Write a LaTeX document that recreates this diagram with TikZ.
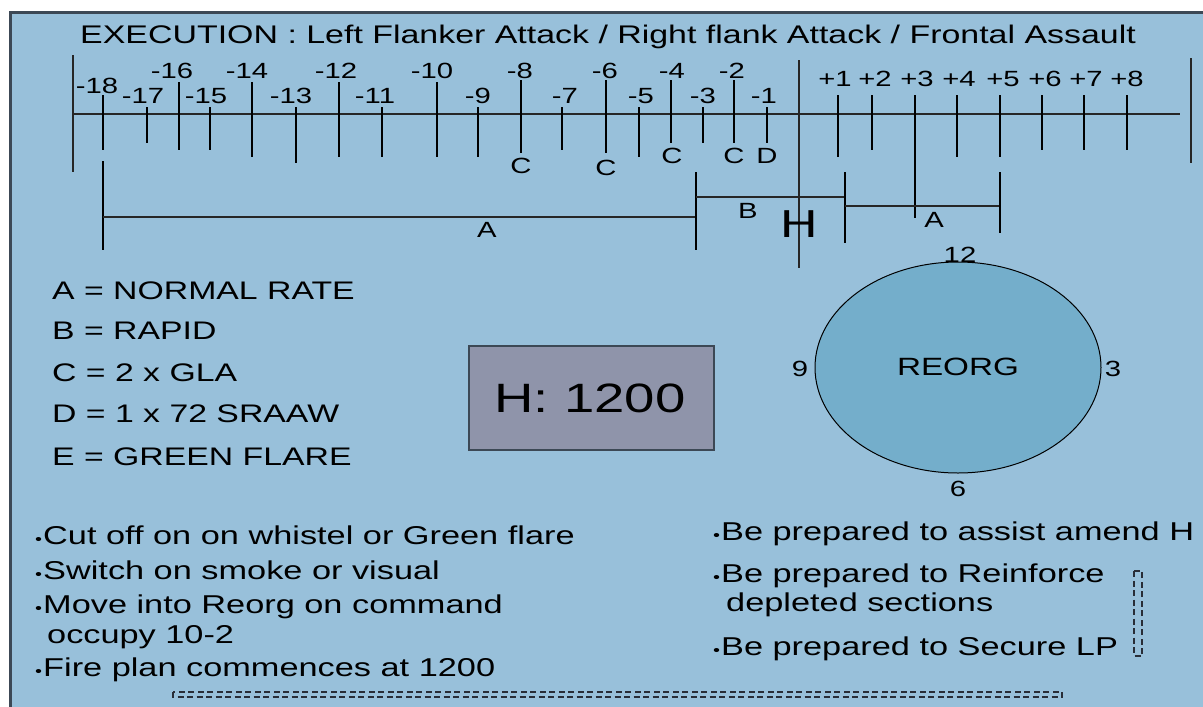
\documentclass[tikz,border=0pt]{standalone}
\usepackage{fontspec}
\usetikzlibrary{shapes.geometric}
\setmainfont[FakeStretch=1.33]{Liberation Sans}
\definecolor{bgblue}{RGB}{152,192,218}
\definecolor{circblue}{RGB}{116,174,203}
\definecolor{boxgray}{RGB}{143,148,170}
\definecolor{framec}{RGB}{60,72,85}
\definecolor{dashc}{RGB}{40,45,55}
\newcommand{\fs}[1]{\fontsize{#1}{#1}\selectfont}
\newcommand{\bul}{{\fs{15}•}\hspace{1pt}}
\begin{document}
\begin{tikzpicture}[x=1pt,y=-1pt,
  tick/.style={line width=1.8pt,black},
  thinline/.style={line width=1.3pt,black!85},
  lbl/.style={inner sep=0pt,anchor=base,font=\fs{22}},
  txt/.style={inner sep=0pt,anchor=base west,font=\fs{25.4}},
  btxt/.style={inner sep=0pt,anchor=base west,font=\fs{25.8}},
  dashbox/.style={draw=dashc,line width=1.2pt,dash pattern=on 6pt off 3.5pt}]
\useasboundingbox (0,0) rectangle (1203,707);
\begin{scope}
\clip (0,0) rectangle (1203,707);
\fill[white] (0,0) rectangle (1203,707);
\filldraw[fill=bgblue,draw=framec,line width=3pt] (10.5,12.5) rectangle (1230,740);
\end{scope}
% title
\node[inner sep=0pt,anchor=base,font=\fs{25.5}] (title) at (608,43) {EXECUTION : Left Flanker Attack / Right flank Attack / Frontal Assault};
% main timeline
\coordinate (tl0) at (73,114);
\coordinate (tl1) at (1180,114);
\draw[thinline] (tl0) -- (tl1);
\draw[thinline] (73,55) -- (73,172);
\draw[thinline] (1191,58) -- (1191,163);
\draw[thinline] (799,60) -- (799,268);
\foreach \x/\t/\b in {103/95/150,147/107/143,179/82/150,210/107/150,252/82/157,296/107/163,339/82/157,382/107/157,437/82/157,478/107/157,521/80/153,562/107/150,606/80/153,639/107/157,671/80/143,703/107/143,734/80/143,767/107/143,838/95/157,872/95/150,915/95/218,957/95/157,1000/95/157,1042/95/150,1084/95/150,1127/95/150}
  \draw[tick] (\x,\t) -- (\x,\b);
% tick labels
\node[lbl] (m18) at (97,93) {-18};
\foreach \n/\x in {16/172,14/247,12/336,10/432,8/520,6/605,4/672,2/732}
  \node[lbl] (m\n) at (\x,78) {-\n};
\foreach \n/\x in {17/143,15/206,13/291,11/375,9/478,7/565,5/641,3/703,1/764}
  \node[lbl] (m\n) at (\x,103) {-\n};
\foreach \n/\x in {1/835,2/875,3/917,4/959,5/1003,6/1045,7/1086,8/1127}
  \node[lbl] (p\n) at (\x,86) {+\n};
% C / D labels
\node[lbl] (c1) at (521,173) {C};
\node[lbl] (c2) at (606,175) {C};
\node[lbl] (c3) at (672,163) {C};
\node[lbl] (c4) at (734,163) {C};
\node[lbl] (d1) at (767,163) {D};
% brackets
\draw[tick] (103,161) -- (103,250);
\draw[thinline] (103,217) -- (696,217);
\draw[tick] (696,172) -- (696,250);
\draw[thinline] (696,197) -- (845,197);
\draw[tick] (845,172) -- (845,243);
\draw[thinline] (845,206) -- (1000,206);
\draw[tick] (1000,172) -- (1000,233);
\node[lbl,font=\fs{22}] (la) at (487,237) {A};
\node[lbl,font=\fs{22}] (lb) at (748,218) {B};
\node[lbl,font=\fs{22}] (la2) at (934,227) {A};
\node[lbl,font=\fs{39}] (hh) at (799,237) {H};
% legend
\node[txt] (lega) at (52,299) {A = NORMAL RATE};
\node[txt] (legb) at (52,339) {B = RAPID};
\node[txt] (legc) at (52,381) {C = 2 x GLA};
\node[txt] (legd) at (52,422) {D = 1 x 72 SRAAW};
\node[txt] (lege) at (52,465) {E = GREEN FLARE};
% H box
\node[draw=framec,fill=boxgray,line width=1.2pt,minimum width=245pt,minimum height=104pt,inner sep=0pt] (hbox) at (591.5,398) {};
\node[inner sep=0pt,anchor=base,font=\fs{41}] (htext) at (590,412) {H: 1200};
% reorg circle
\node[ellipse,draw=black,fill=circblue,line width=1pt,minimum width=286pt,minimum height=211pt,inner sep=0pt] (reorg) at (958,367.5) {};
\node[inner sep=0pt,font=\fs{25}] (rtxt) at (958,367) {REORG};
\node[lbl] (n12) at (960,262) {12};
\node[lbl] (n9) at (800,376) {9};
\node[lbl] (n3) at (1113,376) {3};
\node[lbl] (n6) at (958,496) {6};
% bullets left
\node[btxt] (b1) at (35,544) {\bul Cut off on on whistel or Green flare};
\node[btxt] (b2) at (35,579) {\bul Switch on smoke or visual};
\node[btxt] (b3) at (35,613) {\bul Move into Reorg on command};
\node[btxt] (b3b) at (47,643) {occupy 10-2};
\node[btxt] (b4) at (35,676) {\bul Fire plan commences at 1200};
% bullets right
\node[btxt] (r1) at (713,540) {\bul Be prepared to assist amend H};
\node[btxt] (r2) at (713,582) {\bul Be prepared to Reinforce};
\node[btxt] (r2b) at (726,611) {depleted sections};
\node[btxt] (r3) at (713,655) {\bul Be prepared to Secure LP};
% dashed boxes
\draw[dashbox] (1134,571) rectangle (1142,656);
\draw[dashbox] (173,692) rectangle (1062,697);
\end{tikzpicture}
\end{document}
